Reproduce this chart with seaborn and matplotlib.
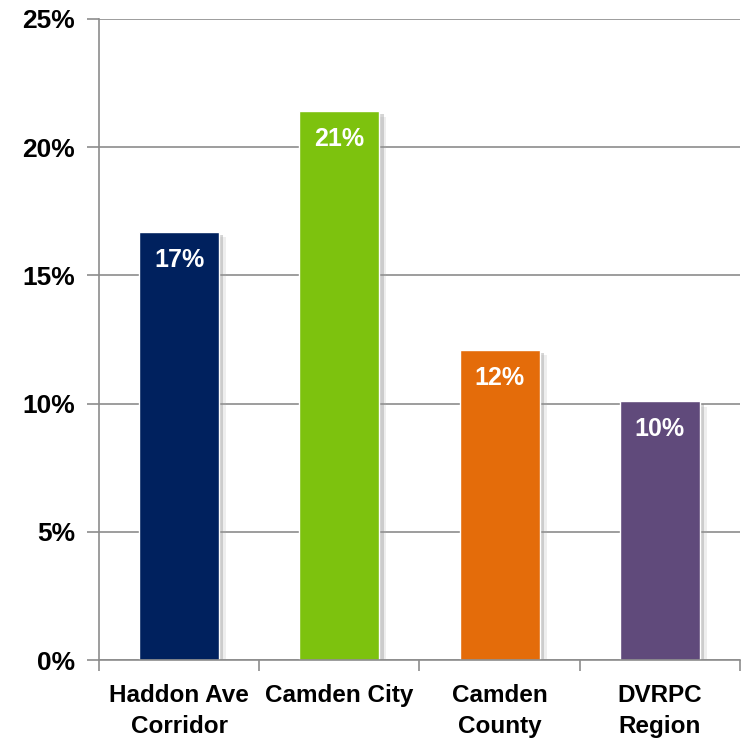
import matplotlib
matplotlib.use("Agg")
import matplotlib.pyplot as plt
import matplotlib.patheffects as pe
from matplotlib.ticker import FuncFormatter, FixedLocator
import seaborn as sns
import pandas as pd

categories = ["Haddon Ave\nCorridor", "Camden City", "Camden\nCounty", "DVRPC\nRegion"]
values = [16.7, 21.4, 12.1, 10.1]
labels = ["17%", "21%", "12%", "10%"]
colors = ["#00215E", "#7DC20E", "#E46C0A", "#604A7B"]

df = pd.DataFrame({"area": categories, "pct": values})

sns.set_style("white")
plt.rcParams["font.family"] = ["Liberation Sans", "DejaVu Sans"]
plt.rcParams["font.weight"] = "bold"
plt.rcParams["text.color"] = "black"
plt.rcParams["xtick.labelcolor"] = "black"
plt.rcParams["ytick.labelcolor"] = "black"

fig = plt.figure(figsize=(7.42, 7.41), dpi=100)
ax = fig.add_axes([0.1334, 0.1093, 0.8639, 0.8651])

sns.barplot(data=df, x="area", y="pct", hue="area", palette=colors,
            width=0.5, legend=False, ax=ax, saturation=1)

# soft drop shadow like the original office chart
for bar in ax.patches:
    bar.set_path_effects([pe.SimplePatchShadow(offset=(3, -2), shadow_rgbFace="#888888", alpha=0.35),
                          pe.SimplePatchShadow(offset=(5, -4), shadow_rgbFace="#aaaaaa", alpha=0.2),
                          pe.Normal()])

for i, (v, lab) in enumerate(zip(values, labels)):
    ax.text(i, v - 1.1, lab, ha="center", va="center", color="white",
            fontsize=18, fontweight="bold")

grey = "#8C8C8C"
ax.set_ylim(0, 25)
ax.set_xlim(-0.5, 3.5)
ax.set_yticks([0, 5, 10, 15, 20, 25])
ax.yaxis.set_major_formatter(FuncFormatter(lambda y, _: f"{y:.0f}%"))
ax.yaxis.grid(True, color=grey, linewidth=1.2)
ax.set_axisbelow(True)

ax.xaxis.set_minor_locator(FixedLocator([-0.5, 0.5, 1.5, 2.5, 3.5]))
ax.tick_params(axis="x", which="major", length=0, pad=17, labelsize=17.5, labelcolor="black")
ax.tick_params(axis="x", which="minor", length=8, width=1.2, color=grey, direction="out", bottom=True)
ax.tick_params(axis="y", length=9, width=1.2, color=grey, pad=8, labelsize=19, left=True, labelcolor="black")
for lbl in ax.get_xticklabels():
    lbl.set_linespacing(1.45)
    lbl.set_fontweight("bold")
for lbl in ax.get_yticklabels():
    lbl.set_fontweight("bold")

for s in ["top", "right"]:
    ax.spines[s].set_visible(False)
for s in ["left", "bottom"]:
    ax.spines[s].set_color(grey)
    ax.spines[s].set_linewidth(1.2)

ax.set_xlabel("")
ax.set_ylabel("")

fig.savefig("out.png", dpi=100, facecolor="white")
